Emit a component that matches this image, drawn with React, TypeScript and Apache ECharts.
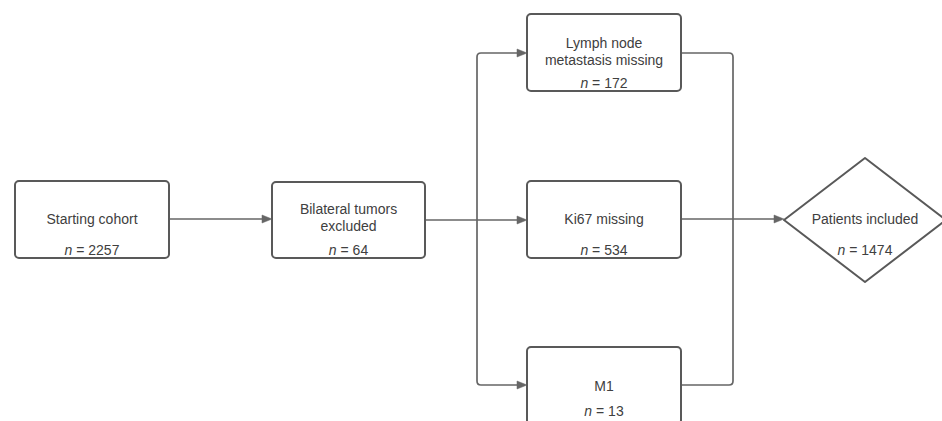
import React, { useEffect, useRef } from "react";
import * as echarts from "echarts";

// ---- Data ----
const nodeLabels = [
  "Starting cohort",
  "Bilateral tumors\nexcluded",
  "Lymph node\nmetastasis missing",
  "Ki67 missing",
  "M1",
  "Patients included",
];
const nodeCounts = [2257, 64, 172, 534, 13, 1474];

// ---- Layout (positions / sizes) ----
// [x, y, w, h, labelCenterY, countY]
const boxLayout: number[][] = [
  [15, 181, 154, 77, 219, 250],
  [272, 182, 153, 76, 217.5, 250],
  [527, 14, 154, 77, 51.5, 83],
  [527, 181, 154, 77, 219, 250],
  [527, 347, 154, 77, 386, 411],
];
// diamond: cx, cy, halfW, halfH, labelY, countY
const diamondLayout = [865, 220, 81, 62, 219, 250];

const LINE = "#666666";
const BOX = "#595959";
const TEXT = "#404040";
const FONT = "Liberation Sans, Arial, sans-serif";

const connectorPaths = [
  "M169 219 L262 219",
  "M425 220 L518 220",
  "M477 220 L477 57 Q477 53 481 53 L518 53",
  "M477 220 L477 381 Q477 385 481 385 L518 385",
  "M681 53 L729 53 Q733 53 733 57 L733 381 Q733 385 729 385 L681 385",
  "M681 219 L775 219",
];
const arrowTips: number[][] = [
  [272, 219],
  [527, 220],
  [527, 53],
  [527, 385],
  [784, 219],
];

connectorPaths.forEach((d, i) => {
  echarts.graphic.registerShape("conn" + i, echarts.graphic.extendPath(d, {}));
});

export default function App() {
  const ref = useRef<HTMLDivElement>(null);
  useEffect(() => {
    if (!ref.current) return;
    const chart = echarts.init(ref.current, undefined, { renderer: "svg" });
    const elements: any[] = [];

    connectorPaths.forEach((_, i) => {
      elements.push({
        type: "conn" + i,
        x: 0,
        y: 0,
        style: { stroke: LINE, lineWidth: 1.7, fill: "none" },
        silent: true,
      });
    });

    arrowTips.forEach(([tx, ty]) => {
      elements.push({
        type: "polygon",
        shape: { points: [[tx, ty], [tx - 10, ty - 4], [tx - 10, ty + 4]] },
        style: { fill: LINE, stroke: LINE, lineWidth: 0.5 },
        silent: true,
      });
    });

    boxLayout.forEach(([x, y, w, h, ly, cy], i) => {
      elements.push({
        type: "rect",
        shape: { x, y, width: w, height: h, r: 4 },
        style: { fill: "#ffffff", stroke: BOX, lineWidth: 2 },
        silent: true,
      });
      elements.push({
        type: "text",
        x: x + w / 2,
        y: ly,
        style: {
          text: nodeLabels[i],
          fill: TEXT,
          fontSize: 14,
          fontFamily: FONT,
          lineHeight: 17,
          align: "center",
          verticalAlign: "middle",
        },
        silent: true,
      });
      elements.push({
        type: "text",
        x: x + w / 2,
        y: cy,
        style: {
          text: "{i|n} = " + nodeCounts[i],
          fill: TEXT,
          fontSize: 14,
          fontFamily: FONT,
          align: "center",
          verticalAlign: "middle",
          rich: {
            i: { fontStyle: "italic", fontSize: 14, fontFamily: FONT, fill: TEXT },
          },
        },
        silent: true,
      });
    });

    const [dcx, dcy, hw, hh, dly, dcy2] = diamondLayout;
    elements.push({
      type: "polygon",
      shape: {
        points: [
          [dcx - hw, dcy],
          [dcx, dcy - hh],
          [dcx + hw, dcy],
          [dcx, dcy + hh],
        ],
      },
      style: { fill: "#ffffff", stroke: BOX, lineWidth: 2, lineJoin: "round" },
      silent: true,
    });
    elements.push({
      type: "text",
      x: dcx,
      y: dly,
      style: {
        text: nodeLabels[5],
        fill: TEXT,
        fontSize: 14,
        fontFamily: FONT,
        align: "center",
        verticalAlign: "middle",
      },
      silent: true,
    });
    elements.push({
      type: "text",
      x: dcx,
      y: dcy2,
      style: {
        text: "{i|n} = " + nodeCounts[5],
        fill: TEXT,
        fontSize: 14,
        fontFamily: FONT,
        align: "center",
        verticalAlign: "middle",
        rich: {
          i: { fontStyle: "italic", fontSize: 14, fontFamily: FONT, fill: TEXT },
        },
      },
      silent: true,
    });

    chart.setOption({
      animation: false,
      backgroundColor: "#ffffff",
      graphic: { elements },
    });
    return () => chart.dispose();
  }, []);
  return (
    <div
      ref={ref}
      style={{ position: "absolute", left: 0, top: 0, width: 942, height: 421 }}
    />
  );
}
